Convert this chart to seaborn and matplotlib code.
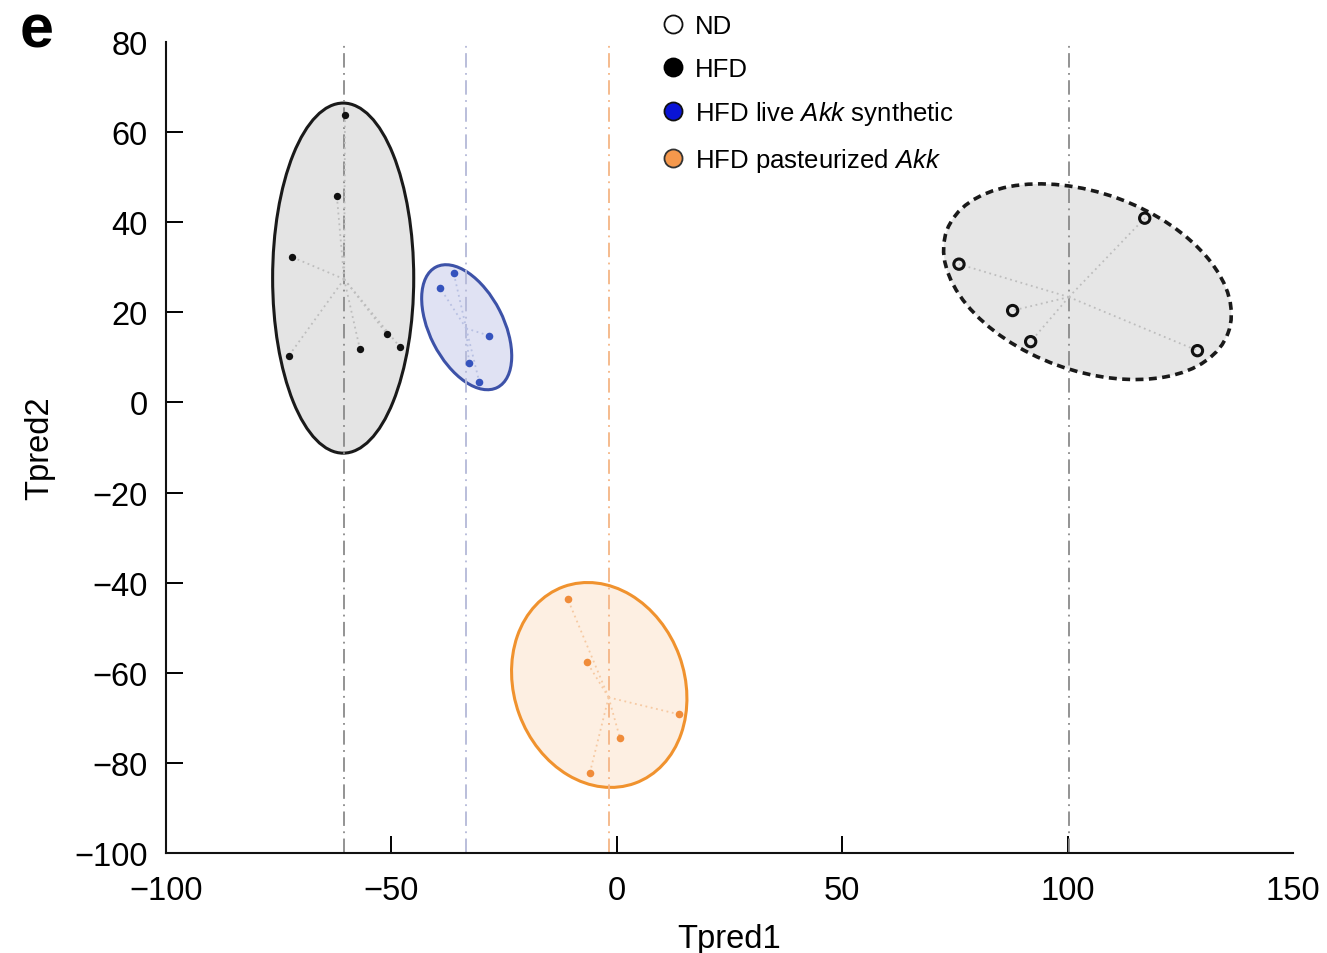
import numpy as np
import pandas as pd
import seaborn as sns
import matplotlib.pyplot as plt
from matplotlib.patches import Ellipse
from matplotlib.lines import Line2D

# Scores (Tpred1, Tpred2)
nd_x = [117.1, 75.9, 87.8, 91.8, 128.8]
nd_y = [40.9, 30.7, 20.4, 13.5, 11.5]
hfd_x = [-60.3, -62.1, -72.1, -72.8, -57.0, -51.0, -48.1]
hfd_y = [63.8, 45.8, 32.3, 10.3, 11.9, 15.2, 12.3]
live_x = [-36.2, -39.2, -28.3, -32.8, -30.5]
live_y = [28.8, 25.4, 14.8, 8.7, 4.5]
past_x = [-10.9, -6.6, 13.7, 0.7, -6.0]
past_y = [-43.6, -57.7, -69.2, -74.5, -82.3]

groups = ["ND", "HFD", "HFD live Akk synthetic", "HFD pasteurized Akk"]
legend_labels = ["ND", "HFD", r"HFD live $\mathit{Akk}$ synthetic",
                 r"HFD pasteurized $\mathit{Akk}$"]

# Ellipses de confiance (centre x, centre y, largeur, hauteur, angle)
ell_nd = [104.4, 26.8, 66.4, 39.4, -20]
ell_hfd = [-60.7, 27.6, 31.3, 77.7, 0]
ell_live = [-33.3, 16.7, 30.0, 16.4, -63]
ell_past = [-3.9, -62.7, 46.4, 37.8, 110]

df = pd.concat([
    pd.DataFrame({"Tpred1": nd_x, "Tpred2": nd_y, "group": groups[0]}),
    pd.DataFrame({"Tpred1": hfd_x, "Tpred2": hfd_y, "group": groups[1]}),
    pd.DataFrame({"Tpred1": live_x, "Tpred2": live_y, "group": groups[2]}),
    pd.DataFrame({"Tpred1": past_x, "Tpred2": past_y, "group": groups[3]}),
], ignore_index=True)

sns.set_style("ticks")
plt.rcParams["font.family"] = ["Liberation Sans", "DejaVu Sans"]
plt.rcParams["mathtext.fontset"] = "custom"
plt.rcParams["mathtext.rm"] = "Liberation Sans"
plt.rcParams["mathtext.it"] = "Liberation Sans:italic"
plt.rcParams["text.color"] = "black"
plt.rcParams["axes.labelcolor"] = "black"
plt.rcParams["xtick.color"] = "black"
plt.rcParams["ytick.color"] = "black"

style = {
    "ND": dict(ell=ell_nd, fill="#e6e6e6", edge="#1a1a1a", ls=(0, (2.2, 1.5)), lw=2.6,
               vline="#8a8a8a", star="#bdbdbd"),
    "HFD": dict(ell=ell_hfd, fill="#e4e4e4", edge="#1a1a1a", ls="-", lw=2.2,
                vline="#8a8a8a", star="#bdbdbd"),
    "HFD live Akk synthetic": dict(ell=ell_live, fill="#e0e2f3", edge="#3d52a8", ls="-", lw=2.2,
                                   vline="#b4b9d8", star="#b8c0e2"),
    "HFD pasteurized Akk": dict(ell=ell_past, fill="#fdefe2", edge="#f0922e", ls="-", lw=2.2,
                                vline="#f5b585", star="#f6c9a2"),
}

fig = plt.figure(figsize=(13.27, 9.54), dpi=100)
ax = fig.add_axes([0.1251, 0.1048, 0.8493, 0.8501])

for g in groups:
    s = style[g]
    sub = df[df["group"] == g]
    cx, cy, w, h, ang = s["ell"]
    ax.add_patch(Ellipse((cx, cy), w, h, angle=ang, facecolor=s["fill"],
                         edgecolor=s["edge"], lw=s["lw"], ls=s["ls"], zorder=1))
    mx, my = sub["Tpred1"].mean(), sub["Tpred2"].mean()
    ax.axvline(mx, color=s["vline"], lw=1.3, ls=(0, (8, 3, 1, 3)), zorder=2)
    for px, py in zip(sub["Tpred1"], sub["Tpred2"]):
        ax.plot([mx, px], [my, py], color=s["star"], lw=1.3, ls=(0, (1, 2)), zorder=2)

sns.scatterplot(data=df[df["group"] == "ND"], x="Tpred1", y="Tpred2", ax=ax,
                marker="o", s=55, facecolor="none", edgecolor="#111111",
                linewidth=2.2, legend=False, zorder=3)
sns.scatterplot(data=df[df["group"] == "HFD"], x="Tpred1", y="Tpred2", ax=ax,
                color="#111111", s=28, linewidth=0, legend=False, zorder=3)
sns.scatterplot(data=df[df["group"] == "HFD live Akk synthetic"], x="Tpred1", y="Tpred2",
                ax=ax, color="#3553bd", s=30, linewidth=0, legend=False, zorder=3)
sns.scatterplot(data=df[df["group"] == "HFD pasteurized Akk"], x="Tpred1", y="Tpred2",
                ax=ax, color="#f08c3a", s=30, linewidth=0, legend=False, zorder=3)

ax.set_xlim(-100, 150)
ax.set_ylim(-100, 80)
ax.set_xticks(np.arange(-100, 151, 50))
ax.set_yticks(np.arange(-100, 81, 20))
sns.despine(ax=ax)
for sp in ["left", "bottom"]:
    ax.spines[sp].set_linewidth(1.5)
    ax.spines[sp].set_color("#111111")
ax.tick_params(direction="in", length=12, width=1.4, labelsize=23.5)
ax.tick_params(axis="x", pad=16)
ax.tick_params(axis="y", pad=13)
# pas de marque aux extrémités des axes
for t in (ax.xaxis.get_major_ticks()[0], ax.xaxis.get_major_ticks()[-1],
          ax.yaxis.get_major_ticks()[0], ax.yaxis.get_major_ticks()[-1]):
    t.tick1line.set_visible(False)
ax.set_xlabel("Tpred1", fontsize=23.5, labelpad=12)
ax.set_ylabel("Tpred2", fontsize=23.5, labelpad=14)

handles = [
    Line2D([], [], ls="none", marker="o", ms=13, mfc="white", mec="#111111", mew=1.3),
    Line2D([], [], ls="none", marker="o", ms=13, mfc="#000000", mec="#000000", mew=1.3),
    Line2D([], [], ls="none", marker="o", ms=13, mfc="#0a14d6", mec="#111111", mew=1.3),
    Line2D([], [], ls="none", marker="o", ms=13, mfc="#f5984c", mec="#333333", mew=1.3),
]
fig.legend(handles, legend_labels, loc="upper left", bbox_to_anchor=(0.4916, 0.995),
           frameon=False, fontsize=18.5, handlelength=0.8, handletextpad=0.45,
           labelspacing=0.72, borderaxespad=0)

fig.text(0.015, 0.9507, "e", fontsize=44, fontweight="bold", va="baseline")

plt.savefig("out.png", dpi=100)
